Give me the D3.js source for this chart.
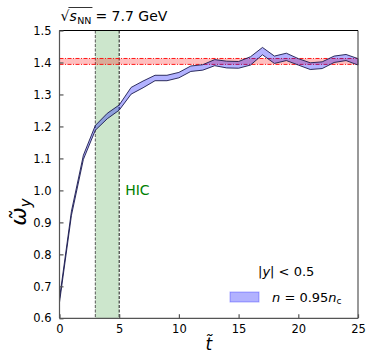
<!DOCTYPE html>
<html><head><meta charset="utf-8">
<script src="https://cdn.jsdelivr.net/npm/d3@7"></script>
<style>body{margin:0;background:#fff}svg{display:block;font-family:"DejaVu Sans",sans-serif}</style>
</head><body><svg id="c" width="373" height="362"></svg>
<script>
const tVals = [0,1,2,3,4,5,6,7,8,9,10,11,12,13,14,15,16,17,18,19,20,21,22,23,24,25];
const lowerVals = [0.650,0.922,1.097,1.188,1.224,1.251,1.301,1.321,1.343,1.343,1.352,1.372,1.376,1.390,1.383,1.382,1.392,1.424,1.397,1.406,1.392,1.378,1.381,1.400,1.406,1.392];
const upperVals = [0.662,0.935,1.110,1.203,1.241,1.267,1.322,1.342,1.360,1.360,1.369,1.389,1.393,1.409,1.404,1.403,1.418,1.447,1.420,1.429,1.412,1.399,1.402,1.420,1.425,1.412];
const refBand = [1.394, 1.4125];
const hicBand = [3, 5];
const xTicks = [0,5,10,15,20,25];
const yTicks = [0.6,0.7,0.8,0.9,1.0,1.1,1.2,1.3,1.4,1.5];

const svg = d3.select("#c");
const L=59.5, R=358, T=30.5, B=318.3;
const x = d3.scaleLinear().domain([0,25]).range([L,R]);
const y = d3.scaleLinear().domain([0.6,1.5]).range([B,T]);

// HIC band
svg.append("rect").attr("x",x(hicBand[0])).attr("y",T).attr("width",x(hicBand[1])-x(hicBand[0])).attr("height",B-T)
  .attr("fill","#008000").attr("fill-opacity",0.2);
svg.append("line").attr("x1",x(hicBand[0])).attr("x2",x(hicBand[0])).attr("y1",T).attr("y2",B)
  .attr("stroke","#333").attr("stroke-width",0.8).attr("stroke-dasharray","3,1.5");
svg.append("line").attr("x1",x(hicBand[1])).attr("x2",x(hicBand[1])).attr("y1",T).attr("y2",B)
  .attr("stroke","#000").attr("stroke-width",0.9).attr("stroke-dasharray","3,1.5");

// reference band
svg.append("rect").attr("x",L).attr("y",y(refBand[1])).attr("width",R-L).attr("height",y(refBand[0])-y(refBand[1]))
  .attr("fill","#ff0000").attr("fill-opacity",0.25);
refBand.forEach(v=>svg.append("line").attr("x1",L).attr("x2",R).attr("y1",y(v)).attr("y2",y(v))
  .attr("stroke","#ff0000").attr("stroke-width",0.9).attr("stroke-dasharray","4,1.5,1,1.5"));

// blue band
const data = tVals.map((t,i)=>({t,lo:lowerVals[i],hi:upperVals[i]}));
const area = d3.area().x(d=>x(d.t)).y0(d=>y(d.lo)).y1(d=>y(d.hi));
svg.append("path").datum(data).attr("d",area).attr("fill","#0000ff").attr("fill-opacity",0.3)
  .attr("stroke","#1a1a4d").attr("stroke-width",0.9).attr("stroke-linejoin","round");

// HIC label
svg.append("text").attr("x",x(5.5)).attr("y",y(1.0)+5).attr("fill","#008000").attr("font-size",14).text("HIC");

// axes
const axG = svg.append("g").attr("stroke","#555").attr("stroke-width",1.2);
axG.append("line").attr("x1",L).attr("x2",L).attr("y1",T).attr("y2",B);
axG.append("line").attr("x1",R).attr("x2",R).attr("y1",T).attr("y2",B);
axG.append("line").attr("x1",L).attr("x2",R).attr("y1",B).attr("y2",B);
svg.append("line").attr("x1",L).attr("x2",R).attr("y1",T).attr("y2",T).attr("stroke","#000").attr("stroke-width",1.1);

const yAx = svg.append("g").attr("transform",`translate(${L},0)`)
  .call(d3.axisLeft(y).tickValues(yTicks).tickFormat(d3.format(".1f")).tickSizeInner(-4).tickSizeOuter(0).tickPadding(8));
yAx.select(".domain").remove();
yAx.selectAll(".tick line").attr("stroke","#555").attr("stroke-width",1.2);
yAx.selectAll("text").attr("font-size",11.5).attr("fill","#000").attr("font-family","DejaVu Sans");

const xAx = svg.append("g").attr("transform",`translate(0,${B})`)
  .call(d3.axisBottom(x).tickValues(xTicks).tickSizeInner(-4).tickSizeOuter(0).tickPadding(7));
xAx.select(".domain").remove();
xAx.selectAll(".tick line").attr("stroke","#555").attr("stroke-width",1.2);
xAx.selectAll("text").attr("font-size",11.5).attr("fill","#000").attr("font-family","DejaVu Sans");

// title: sqrt(s_NN) = 7.7 GeV
const tY = 21;
let cx = L + 1;
const rad = svg.append("text").attr("x",cx).attr("y",tY).attr("font-size",14).text("√");
cx += rad.node().getComputedTextLength();
const s1 = svg.append("text").attr("x",cx).attr("y",tY).attr("font-size",14).attr("font-style","italic").text("s");
const radStart = cx - 1;
cx += s1.node().getComputedTextLength() + 0.5;
const s2 = svg.append("text").attr("x",cx).attr("y",tY+3).attr("font-size",9.5).text("NN");
cx += s2.node().getComputedTextLength() + 1;
svg.append("line").attr("x1",radStart).attr("x2",cx).attr("y1",7.5).attr("y2",7.5).attr("stroke","#000").attr("stroke-width",0.8);
svg.append("text").attr("x",cx+3).attr("y",tY).attr("font-size",14).text("= 7.7 GeV");

// y label
const yl = svg.append("text").attr("transform","translate(26,212) rotate(-90)").attr("text-anchor","middle").attr("font-size",22).attr("fill","#000");
yl.append("tspan").attr("font-style","italic").text("ω̃");
yl.append("tspan").attr("font-style","italic").attr("font-size",15).attr("dy",5).text("y");

// x label
svg.append("text").attr("x",x(12.5)).attr("y",350).attr("text-anchor","middle").attr("font-size",17).attr("font-style","italic").text("t̃");

// legend
const lt = svg.append("text").attr("x",258).attr("y",276).attr("font-size",13).attr("fill","#000");
lt.append("tspan").text("|");
lt.append("tspan").attr("font-style","italic").text("y");
lt.append("tspan").text("| < 0.5");
svg.append("rect").attr("x",230).attr("y",292).attr("width",29).attr("height",10)
  .attr("fill","#0000ff").attr("fill-opacity",0.3).attr("stroke","#0000ff").attr("stroke-opacity",0.3);
const ln = svg.append("text").attr("x",272).attr("y",302).attr("font-size",13).attr("fill","#000");
ln.append("tspan").attr("font-style","italic").text("n");
ln.append("tspan").text(" = 0.95");
ln.append("tspan").attr("font-style","italic").text("n");
ln.append("tspan").attr("font-size",9).attr("dy",2).text("c");
</script></body></html>
